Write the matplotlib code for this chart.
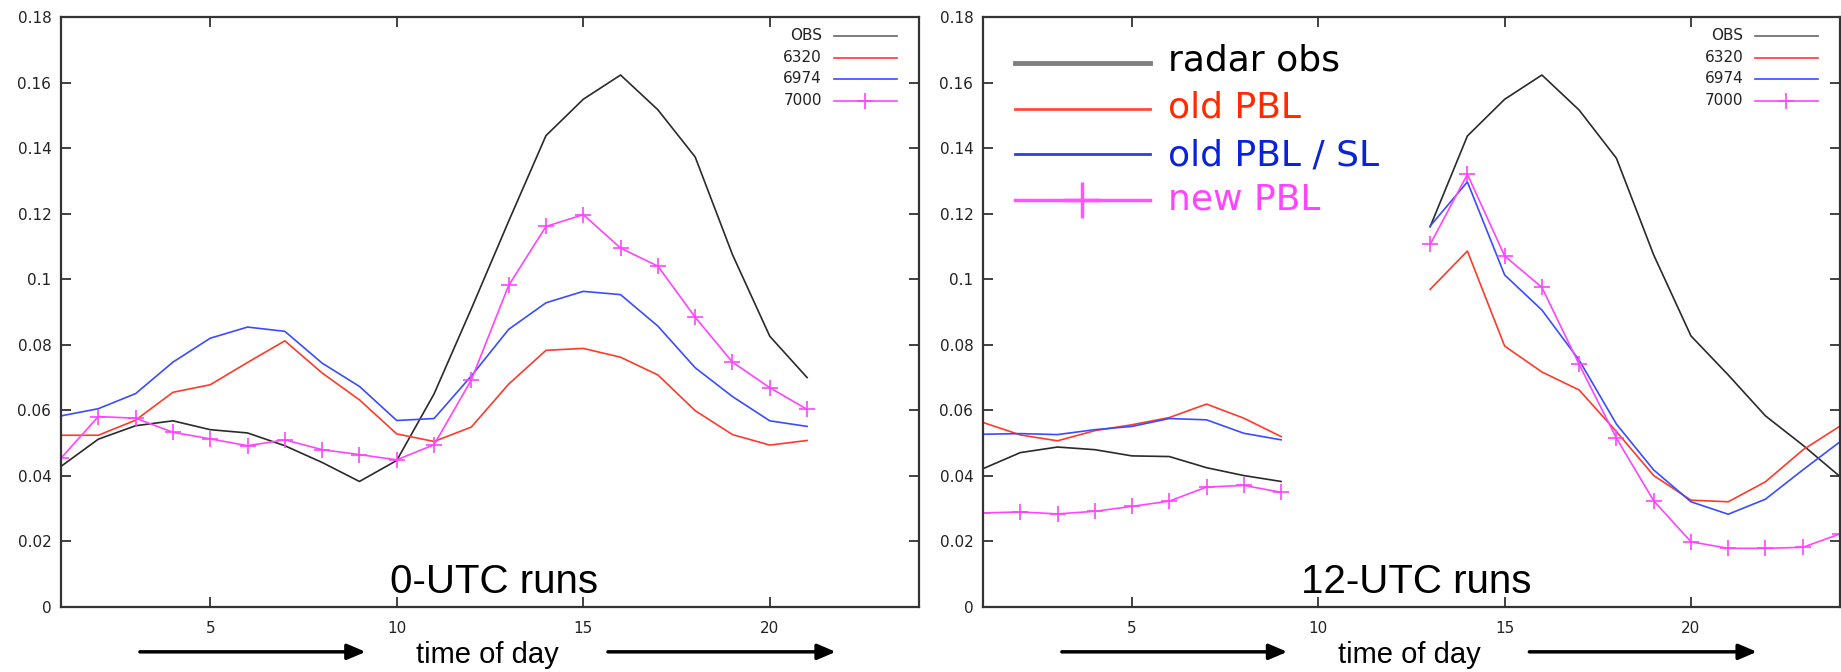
import numpy as np
import matplotlib

matplotlib.use("Agg")
import matplotlib.pyplot as plt
from matplotlib.ticker import FuncFormatter

nan = np.nan

# 0-UTC runs: hours 1..21
hours_00 = list(range(1, 22))
obs_00 = [0.0429, 0.0512, 0.0553, 0.0568, 0.0541, 0.0531, 0.0492, 0.0441, 0.0383, 0.0447,
          0.0650, 0.0910, 0.1177, 0.1438, 0.1549, 0.1623, 0.1517, 0.1373, 0.1075, 0.0826, 0.0700]
r6320_00 = [0.0524, 0.0524, 0.0570, 0.0655, 0.0678, 0.0746, 0.0812, 0.0714, 0.0632, 0.0528,
            0.0505, 0.0549, 0.0680, 0.0783, 0.0789, 0.0762, 0.0708, 0.0599, 0.0526, 0.0494, 0.0508]
r6974_00 = [0.0583, 0.0605, 0.0651, 0.0747, 0.0820, 0.0854, 0.0841, 0.0744, 0.0673, 0.0569,
            0.0575, 0.0705, 0.0847, 0.0928, 0.0963, 0.0953, 0.0857, 0.0730, 0.0642, 0.0568, 0.0551]
r7000_00 = [0.0454, 0.0581, 0.0576, 0.0533, 0.0513, 0.0492, 0.0510, 0.0480, 0.0465, 0.0449,
            0.0495, 0.0693, 0.0981, 0.1161, 0.1197, 0.1095, 0.1040, 0.0884, 0.0747, 0.0669, 0.0603]

# 12-UTC runs: hours 1..24, no data at 10-12
hours_12 = list(range(1, 25))
obs_12 = [0.0422, 0.0471, 0.0488, 0.0480, 0.0461, 0.0459, 0.0425, 0.0401, 0.0383, nan, nan, nan,
          0.1160, 0.1437, 0.1549, 0.1623, 0.1516, 0.1369, 0.1074, 0.0827, 0.0708, 0.0583, 0.0494, 0.0398]
r6320_12 = [0.0563, 0.0525, 0.0507, 0.0538, 0.0556, 0.0578, 0.0619, 0.0576, 0.0520, nan, nan, nan,
            0.0969, 0.1086, 0.0796, 0.0717, 0.0662, 0.0535, 0.0401, 0.0326, 0.0321, 0.0382, 0.0479, 0.0552]
r6974_12 = [0.0527, 0.0529, 0.0526, 0.0541, 0.0551, 0.0575, 0.0571, 0.0530, 0.0510, nan, nan, nan,
            0.1162, 0.1297, 0.1013, 0.0906, 0.0753, 0.0558, 0.0418, 0.0321, 0.0283, 0.0329, 0.0418, 0.0504]
r7000_12 = [0.0287, 0.0290, 0.0284, 0.0292, 0.0307, 0.0323, 0.0366, 0.0371, 0.0350, nan, nan, nan,
            0.1106, 0.1320, 0.1071, 0.0975, 0.0740, 0.0515, 0.0324, 0.0199, 0.0179, 0.0179, 0.0182, 0.0223]

run_names = ["OBS", "6320", "6974", "7000"]
big_labels = ["radar obs", "old PBL", "old PBL / SL", "new PBL"]
panel_titles = ["0-UTC runs", "12-UTC runs"]

C_OBS = "#2a2a2a"
C_RED = "#ff3a2a"
C_BLUE = "#3a4cff"
C_MAG = "#ff44ff"
SPINE = "#333333"

fig = plt.figure(figsize=(18.41, 6.72), dpi=100)
W, H = 1841, 672
ax1 = fig.add_axes([61 / W, 65 / H, 858 / W, 590 / H])
ax2 = fig.add_axes([983 / W, 65 / H, 857 / W, 590 / H])


def style_axes(ax):
    ax.set_xlim(1, 24)
    ax.set_ylim(0, 0.18)
    ax.set_xticks([5, 10, 15, 20])
    ax.set_yticks(np.arange(0, 0.181, 0.02))
    ax.yaxis.set_major_formatter(FuncFormatter(lambda v, _p: f"{v:g}"))
    ax.tick_params(direction="in", length=7, width=1.3, color=SPINE,
                   top=True, right=True, labelsize=11, labelcolor="#222222")
    ax.tick_params(axis="x", pad=10)
    ax.tick_params(axis="y", pad=7)
    for sp in ax.spines.values():
        sp.set_color(SPINE)
        sp.set_linewidth(1.6)


def draw_runs(ax, hours, obs, r6320, r6974, r7000):
    ax.plot(hours, obs, color=C_OBS, lw=1.2)
    ax.plot(hours, r6320, color=C_RED, lw=1.2)
    ax.plot(hours, r6974, color=C_BLUE, lw=1.2)
    ax.plot(hours, r7000, color=C_MAG, lw=1.2, marker="+", ms=12, mew=1.2)


def small_legend(ax):
    cols = ["#666666", C_RED, C_BLUE, C_MAG]
    rows = [0.968, 0.931, 0.895, 0.858]
    for name, c, y in zip(run_names, cols, rows):
        ax.text(0.887, y, name, transform=ax.transAxes, ha="right", va="center",
                fontsize=11, color="#222222")
        ax.plot([0.901, 0.974], [y, y], transform=ax.transAxes, color=c, lw=1.2,
                clip_on=False)
        if name == "7000":
            ax.plot([0.9375], [y], transform=ax.transAxes, color=c, marker="+",
                    ms=12, mew=1.2, clip_on=False)


def decorate(ax, title):
    ax.text(0.505, 0.024, title, transform=ax.transAxes, ha="center", va="baseline",
            fontsize=29, family="Liberation Sans", color="black")
    ax.text(0.497, -0.095, "time of day", transform=ax.transAxes, ha="center",
            va="baseline", fontsize=21, family="Liberation Sans", color="black")
    for x0, x1 in [(0.092, 0.355), (0.6375, 0.903)]:
        ax.annotate("", xy=(x1, -0.076), xytext=(x0, -0.076), xycoords="axes fraction",
                    textcoords="axes fraction", annotation_clip=False,
                    arrowprops=dict(arrowstyle="-|>,head_length=1.1,head_width=0.47",
                                    mutation_scale=10, lw=2.5, color="black",
                                    shrinkA=0, shrinkB=0))


for ax, title in zip([ax1, ax2], panel_titles):
    style_axes(ax)
    small_legend(ax)
    decorate(ax, title)

draw_runs(ax1, hours_00, obs_00, r6320_00, r6974_00, r7000_00)
draw_runs(ax2, hours_12, obs_12, r6320_12, r6974_12, r7000_12)

# large annotated legend on the 12-UTC panel
big_line_cols = ["#7f7f7f", "#ff4a3a", "#2c3cf0", "#ff55ff"]
big_line_w = [3.5, 2.0, 2.0, 2.5]
big_text_cols = ["black", "#ff2a00", "#0a22d8", "#ff44ff"]
line_rows = [0.922, 0.844, 0.768, 0.690]
base_rows = [0.909, 0.8305, 0.749, 0.673]
for lab, lc, lw, tc, yl, yb in zip(big_labels, big_line_cols, big_line_w, big_text_cols,
                                   line_rows, base_rows):
    ax2.plot([0.037, 0.195], [yl, yl], transform=ax2.transAxes, color=lc, lw=lw)
    if lab == "new PBL":
        ax2.plot([0.116], [yl], transform=ax2.transAxes, color=lc, marker="+",
                 ms=26, mew=2.5)
    ax2.text(0.216, yb, lab, transform=ax2.transAxes, ha="left", va="baseline",
             fontsize=26, color=tc)

fig.savefig("out.png", dpi=100)
